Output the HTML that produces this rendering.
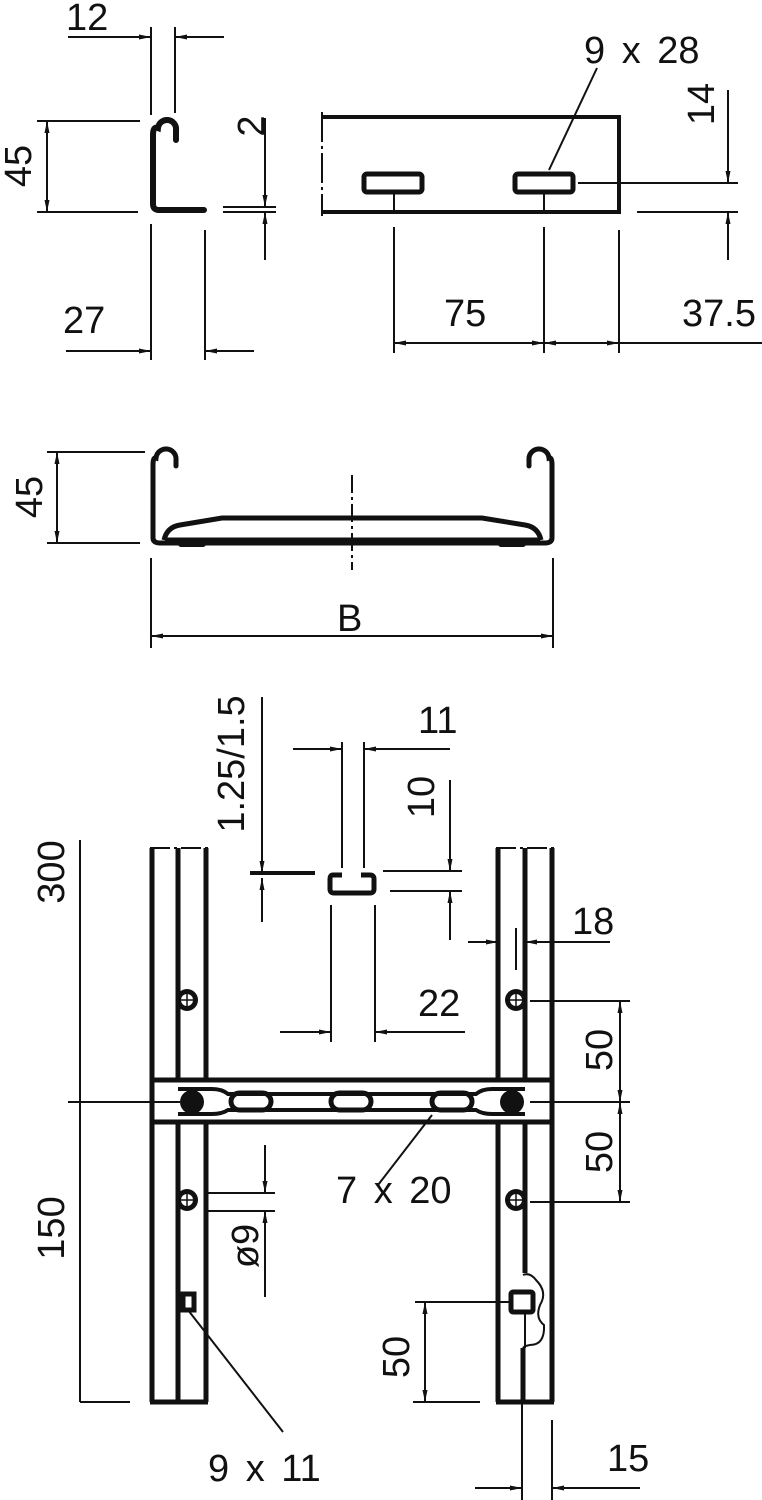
<!DOCTYPE html>
<html><head><meta charset="utf-8"><style>
html,body{margin:0;padding:0;background:#fff}
svg{display:block}
text{font-family:"Liberation Sans",sans-serif;font-size:38px;fill:#111}
</style></head><body>
<svg width="762" height="1500" viewBox="0 0 762 1500" xmlns="http://www.w3.org/2000/svg">
<defs>
<marker id="a" viewBox="0 0 12 6" refX="12" refY="3" markerWidth="12" markerHeight="6" markerUnits="userSpaceOnUse" orient="auto-start-reverse"><path d="M0,0.5 L12,3 L0,5.5z" fill="#111"/></marker>
</defs>
<g stroke="#111" fill="none" stroke-width="2">
<path d="M176,140 V130 A9,9 0 0 0 158,128 Q153,126 153,135 V204 Q153,210 159,210 H204" stroke-width="6" stroke-linecap="round"/>
<line x1="151" y1="27" x2="151" y2="115"/><line x1="175" y1="27" x2="175" y2="113"/>
<line x1="68" y1="37" x2="151" y2="37" marker-end="url(#a)"/><line x1="224" y1="37" x2="175" y2="37" marker-end="url(#a)"/>
<line x1="37" y1="121" x2="140" y2="121"/><line x1="37" y1="212" x2="138" y2="212"/>
<line x1="47" y1="121" x2="47" y2="212" marker-start="url(#a)" marker-end="url(#a)"/>
<line x1="265" y1="118" x2="265" y2="207" marker-end="url(#a)"/><line x1="265" y1="260" x2="265" y2="212" marker-end="url(#a)"/>
<line x1="223" y1="207" x2="276" y2="207"/><line x1="223" y1="212" x2="276" y2="212"/>
<line x1="151" y1="224" x2="151" y2="360"/><line x1="205" y1="230" x2="205" y2="360"/>
<line x1="66" y1="351" x2="151" y2="351" marker-end="url(#a)"/><line x1="254" y1="351" x2="205" y2="351" marker-end="url(#a)"/>
<path d="M322,117 H619 V212 H322" stroke-width="4"/>
<line x1="322" y1="112" x2="322" y2="216" stroke-dasharray="30,4,3,4"/>
<rect x="364" y="174" width="58" height="18" rx="3" stroke-width="5"/>
<rect x="515" y="174" width="58" height="18" rx="3" stroke-width="5"/>
<line x1="394" y1="194" x2="394" y2="212"/><line x1="544" y1="194" x2="544" y2="212"/>
<line x1="394" y1="227" x2="394" y2="353"/><line x1="544" y1="227" x2="544" y2="353"/><line x1="619" y1="230" x2="619" y2="353"/>
<line x1="394" y1="343" x2="544" y2="343" marker-start="url(#a)" marker-end="url(#a)"/>
<line x1="544" y1="343" x2="619" y2="343" marker-start="url(#a)" marker-end="url(#a)"/>
<line x1="619" y1="343" x2="762" y2="343"/>
<line x1="597" y1="68" x2="549" y2="170"/>
<line x1="578" y1="183" x2="738" y2="183"/><line x1="637" y1="212" x2="738" y2="212"/>
<line x1="728" y1="90" x2="728" y2="183" marker-end="url(#a)"/><line x1="728" y1="260" x2="728" y2="212" marker-end="url(#a)"/>
<path d="M176,466 V460 A10,10 0 0 0 156,458 Q153,457 153,465 V538 Q153,543 160,543 H545 Q552,543 552,538 V465 Q552,457 549,458 A10,10 0 0 0 529,460 V466" stroke-width="5" stroke-linecap="round"/>
<path d="M164,540 Q167,527 180,525 L222,518 H482 L525,525 Q538,527 541,540" stroke-width="5"/>
<line x1="165" y1="540" x2="540" y2="540" stroke-width="5"/>
<rect x="178" y="540" width="28" height="7" rx="3" fill="#111" stroke="none"/>
<rect x="498" y="540" width="28" height="7" rx="3" fill="#111" stroke="none"/>
<line x1="352" y1="475" x2="352" y2="570" stroke-dasharray="18,4,3,4"/>
<line x1="47" y1="452" x2="145" y2="452"/><line x1="47" y1="543" x2="140" y2="543"/>
<line x1="57" y1="452" x2="57" y2="543" marker-start="url(#a)" marker-end="url(#a)"/>
<line x1="151" y1="558" x2="151" y2="648"/><line x1="553" y1="558" x2="553" y2="648"/>
<line x1="151" y1="636" x2="553" y2="636" marker-start="url(#a)" marker-end="url(#a)"/>
<g stroke-width="5">
<line x1="152" y1="848" x2="152" y2="1402"/><line x1="206" y1="848" x2="206" y2="1080"/><line x1="206" y1="1122" x2="206" y2="1402"/>
<line x1="178" y1="848" x2="178" y2="1080"/><line x1="178" y1="1122" x2="178" y2="1402"/>
<line x1="150" y1="1402" x2="208" y2="1402"/>
<line x1="498" y1="848" x2="498" y2="1080"/><line x1="498" y1="1122" x2="498" y2="1402"/>
<line x1="552" y1="848" x2="552" y2="1402"/>
<line x1="525" y1="848" x2="525" y2="1080"/><line x1="525" y1="1122" x2="525" y2="1273"/><line x1="523" y1="1348" x2="523" y2="1402"/>
<line x1="496" y1="1402" x2="554" y2="1402"/>
<line x1="152" y1="1080" x2="552" y2="1080"/><line x1="152" y1="1122" x2="552" y2="1122"/>
<path d="M178,1089 H212 Q222,1089 228,1094 H476 Q482,1089 492,1089 H525 M178,1114 H212 Q222,1114 228,1110 H476 Q482,1114 492,1114 H525" stroke-width="4"/>
<rect x="231" y="1093" width="40" height="17" rx="8.5"/>
<rect x="331" y="1093" width="40" height="17" rx="8.5"/>
<rect x="432" y="1093" width="40" height="17" rx="8.5"/>
<rect x="183" y="1294" width="11" height="16"/>
<rect x="511" y="1292" width="22" height="20" rx="2"/>
</g>
<path d="M523,1275 Q530,1272 536,1280 Q548,1292 540,1305 Q535,1318 544,1325 Q545,1345 530,1345 Q524,1346 523,1348" stroke-width="2"/>
<line x1="525" y1="1312" x2="525" y2="1348" stroke-width="2"/>
<g stroke-width="2" stroke-dasharray="20,4,3,4">
<line x1="150" y1="848" x2="208" y2="848"/><line x1="496" y1="848" x2="554" y2="848"/>
</g>
<g fill="#111" stroke="none">
<circle cx="187" cy="1000" r="11"/><circle cx="187" cy="1200" r="11"/>
<circle cx="516" cy="1000" r="11"/><circle cx="516" cy="1200" r="11"/>
<circle cx="192" cy="1102" r="12"/><circle cx="512" cy="1102" r="12"/>
</g>
<g fill="#fff" stroke="none">
<circle cx="187" cy="1000" r="6"/><circle cx="187" cy="1200" r="6"/>
<circle cx="516" cy="1000" r="6"/><circle cx="516" cy="1200" r="6"/>
<rect x="238" y="1097" width="26" height="9" rx="4.5"/><rect x="338" y="1097" width="26" height="9" rx="4.5"/><rect x="439" y="1097" width="26" height="9" rx="4.5"/>
</g>
<g stroke-width="1.5">
<path d="M187,992 V1008 M179,1000 H195 M187,1192 V1208 M179,1200 H195 M516,992 V1008 M508,1000 H524 M516,1192 V1208 M508,1200 H524"/>
</g>
<path d="M342,875 H333 Q330,875 330,879 V889 Q330,893 334,893 H370 Q374,893 374,889 V879 Q374,875 370,875 H361" stroke-width="5"/>
<line x1="80" y1="840" x2="80" y2="1402"/>
<line x1="68" y1="1102" x2="180" y2="1102"/><line x1="80" y1="1402" x2="130" y2="1402"/>
<line x1="262" y1="697" x2="262" y2="873" marker-end="url(#a)"/><line x1="262" y1="922" x2="262" y2="878" marker-end="url(#a)"/>
<line x1="250" y1="873" x2="315" y2="873" stroke-width="4"/>
<line x1="342" y1="742" x2="342" y2="868"/><line x1="364" y1="742" x2="364" y2="868"/>
<line x1="293" y1="749" x2="342" y2="749" marker-end="url(#a)"/><line x1="450" y1="749" x2="364" y2="749" marker-end="url(#a)"/>
<line x1="383" y1="871" x2="462" y2="871"/><line x1="390" y1="891" x2="462" y2="891"/>
<line x1="450" y1="780" x2="450" y2="871" marker-end="url(#a)"/><line x1="450" y1="940" x2="450" y2="891" marker-end="url(#a)"/>
<line x1="331" y1="905" x2="331" y2="1042"/><line x1="375" y1="905" x2="375" y2="1042"/>
<line x1="280" y1="1032" x2="331" y2="1032" marker-end="url(#a)"/><line x1="465" y1="1032" x2="375" y2="1032" marker-end="url(#a)"/>
<line x1="468" y1="942" x2="498" y2="942" marker-end="url(#a)"/><line x1="610" y1="942" x2="525" y2="942" marker-end="url(#a)"/>
<line x1="516" y1="928" x2="516" y2="970"/>
<line x1="530" y1="1001" x2="630" y2="1001"/><line x1="530" y1="1102" x2="630" y2="1102"/><line x1="530" y1="1202" x2="630" y2="1202"/>
<line x1="620" y1="1001" x2="620" y2="1102" marker-start="url(#a)" marker-end="url(#a)"/>
<line x1="620" y1="1102" x2="620" y2="1202" marker-start="url(#a)" marker-end="url(#a)"/>
<line x1="378" y1="1185" x2="432" y2="1115"/>
<line x1="207" y1="1193" x2="275" y2="1193"/><line x1="207" y1="1211" x2="275" y2="1211"/>
<line x1="265" y1="1145" x2="265" y2="1193" marker-end="url(#a)"/><line x1="265" y1="1297" x2="265" y2="1211" marker-end="url(#a)"/>
<line x1="188" y1="1310" x2="283" y2="1432"/>
<line x1="415" y1="1302" x2="510" y2="1302"/><line x1="413" y1="1402" x2="480" y2="1402"/>
<line x1="425" y1="1302" x2="425" y2="1402" marker-start="url(#a)" marker-end="url(#a)"/>
<line x1="522" y1="1402" x2="522" y2="1500"/><line x1="552" y1="1420" x2="552" y2="1500"/>
<line x1="475" y1="1488" x2="522" y2="1488" marker-end="url(#a)"/><line x1="640" y1="1488" x2="552" y2="1488" marker-end="url(#a)"/>
</g>
<text x="66" y="30">12</text>
<text transform="translate(31,166) rotate(-90)" text-anchor="middle">45</text>
<text transform="translate(264,126) rotate(-90)" text-anchor="middle">2</text>
<text x="63" y="333">27</text>
<text x="584" y="63" style="word-spacing:6px">9 x 28</text>
<text transform="translate(714,104) rotate(-90)" text-anchor="middle">14</text>
<text x="444" y="326">75</text>
<text x="682" y="326">37.5</text>
<text transform="translate(42,497) rotate(-90)" text-anchor="middle">45</text>
<text x="337" y="631">B</text>
<text transform="translate(244,764) rotate(-90)" text-anchor="middle">1.25/1.5</text>
<text x="418" y="733">11</text>
<text transform="translate(434,797) rotate(-90)" text-anchor="middle">10</text>
<text transform="translate(64,872) rotate(-90)" text-anchor="middle">300</text>
<text x="572" y="934">18</text>
<text x="418" y="1016">22</text>
<text transform="translate(612,1050) rotate(-90)" text-anchor="middle">50</text>
<text transform="translate(612,1152) rotate(-90)" text-anchor="middle">50</text>
<text x="336" y="1203" style="word-spacing:6px">7 x 20</text>
<text transform="translate(64,1228) rotate(-90)" text-anchor="middle">150</text>
<text transform="translate(258,1246) rotate(-90)" text-anchor="middle">ø9</text>
<text transform="translate(409,1357) rotate(-90)" text-anchor="middle">50</text>
<text x="208" y="1481" style="word-spacing:6px">9 x 11</text>
<text x="607" y="1471">15</text>
</svg>
</body></html>
